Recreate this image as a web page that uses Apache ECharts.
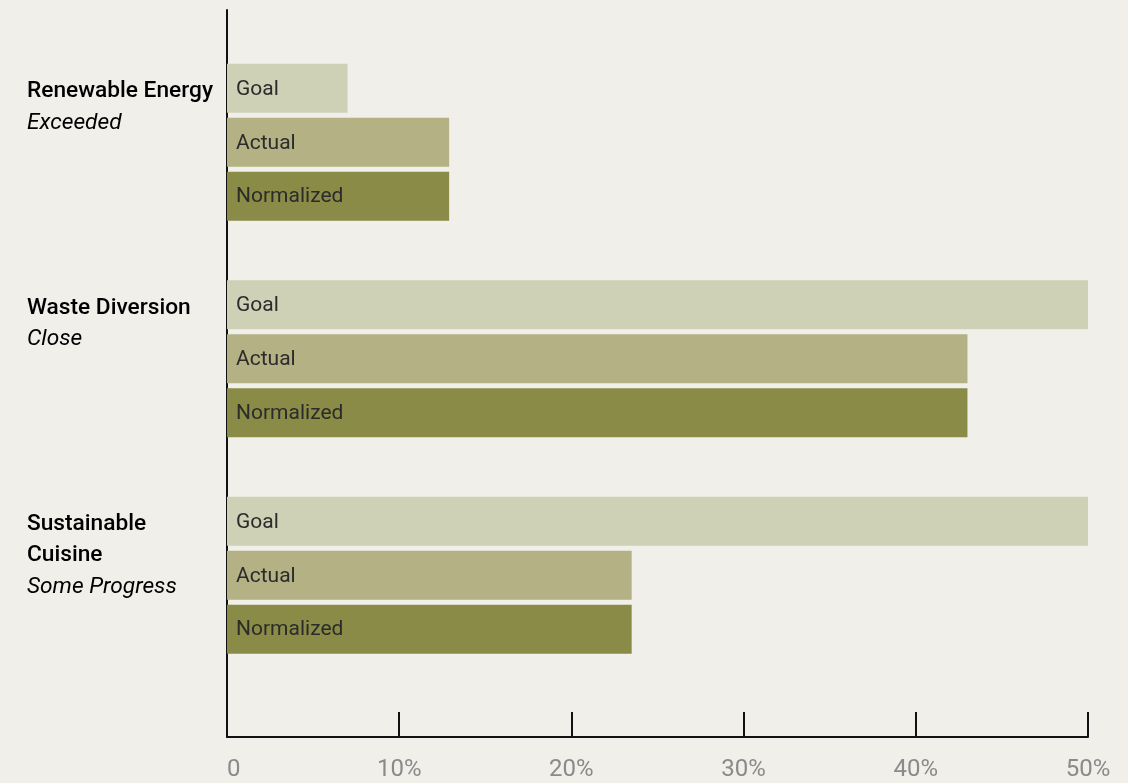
<!DOCTYPE html>
<html>
<head>
<meta charset="utf-8">
<script src="https://cdn.jsdelivr.net/npm/echarts@6/dist/echarts.min.js"></script>
<style>
html,body{margin:0;padding:0;background:#f0efea;}
#chart{width:1128px;height:783px;}
</style>
</head>
<body>
<div id="chart"></div>
<script>
const categories = ['Renewable Energy', 'Waste Diversion', 'Sustainable Cuisine'];
const titleLines = [['Renewable Energy'], ['Waste Diversion'], ['Sustainable', 'Cuisine']];
const statuses = ['Exceeded', 'Close', 'Some Progress'];
const seriesNames = ['Goal', 'Actual', 'Normalized'];
const goalValues = [7, 50, 50];
const actualValues = [12.9, 43, 23.5];
const normalizedValues = [12.9, 43, 23.5];
const xTickLabels = ['0', '10%', '20%', '30%', '40%', '50%'];
const xMin = 0, xMax = 50, xStep = 10;

const colors = ['#cfd1b6', '#b4b185', '#8b8b48'];
const valueSets = [goalValues, actualValues, normalizedValues];

const chart = echarts.init(document.getElementById('chart'), null, {renderer: 'canvas'});

const series = seriesNames.map((name, i) => ({
  name: name,
  type: 'bar',
  xAxisIndex: 0,
  yAxisIndex: 0,
  data: valueSets[i],
  barWidth: 49,
  barGap: '10%',
  itemStyle: {color: colors[i]},
  label: {
    show: true,
    position: 'insideLeft',
    distance: 9,
    offset: [0, 1],
    formatter: name,
    fontFamily: 'Roboto',
    fontSize: 21,
    color: '#2b2b2b'
  },
  silent: true
}));

const option = {
  backgroundColor: '#f0efea',
  animation: false,
  grid: [
    {left: 227, right: 40, top: 34, bottom: 99.5},
    {left: 227, right: 40, top: 10, bottom: 46}
  ],
  xAxis: [
    {gridIndex: 0, type: 'value', min: xMin, max: xMax, interval: xStep, show: false},
    {
      gridIndex: 1, type: 'value', min: xMin, max: xMax, interval: xStep,
      axisLine: {show: true, lineStyle: {color: '#111', width: 2}},
      axisTick: {show: true, inside: true, length: 25, lineStyle: {color: '#111', width: 2}},
      splitLine: {show: false},
      axisLabel: {
        margin: 21,
        fontFamily: '"Liberation Sans Narrow", "Roboto"',
        fontSize: 24,
        color: '#8a8a8a',
        alignMinLabel: 'left',
        formatter: (v) => xTickLabels[Math.round((v - xMin) / xStep)]
      }
    }
  ],
  yAxis: [
    {
      gridIndex: 0, type: 'category', data: categories, inverse: true,
      axisLine: {show: false}, axisTick: {show: false}, axisLabel: {show: false}
    },
    {
      gridIndex: 1, type: 'value', min: 0, max: 1,
      axisLine: {show: true, lineStyle: {color: '#111', width: 2}},
      axisTick: {show: false}, axisLabel: {show: false}, splitLine: {show: false}
    }
  ],
  series: series
};

chart.setOption(option);

const graphics = categories.map((cat, i) => {
  const cy = chart.convertToPixel({yAxisIndex: 0}, cat);
  const text = titleLines[i].map(t => '{b|' + t + '}').join('\n') + '\n{i|' + statuses[i] + '}';
  return {
    type: 'text',
    left: 27,
    top: cy - 62,
    style: {
      text: text,
      rich: {
        b: {fontFamily: 'Roboto', fontWeight: 500, fontSize: 22.7, color: '#333', lineHeight: 31},
        i: {fontFamily: 'Roboto', fontStyle: 'italic', fontSize: 22.7, color: '#333', lineHeight: 32}
      }
    }
  };
});
chart.setOption({graphic: graphics});
</script>
</body>
</html>
